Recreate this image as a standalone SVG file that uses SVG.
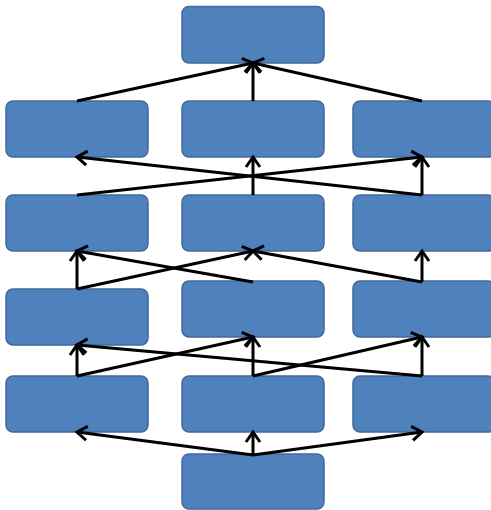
<svg xmlns="http://www.w3.org/2000/svg" width="491" height="510" viewBox="0 0 491 510">
<style>
.n{fill:#4F81BD;stroke:#41699A;stroke-width:1.5}
.c{stroke:#000;stroke-width:3;fill:none;marker-end:url(#a)}
</style>
<defs>
<marker id="a" markerUnits="userSpaceOnUse" markerWidth="24" markerHeight="24" refX="12" refY="12" orient="auto" viewBox="0 0 24 24">
<path d="M2,5 L12,12 L2,19" fill="none" stroke="#000" stroke-width="3"/>
</marker>
</defs>
<g id="n_top"><rect class="n" x="182" y="6.5" width="142" height="56.5" rx="7"/></g>
<g id="n_r2_l"><rect class="n" x="6" y="101" width="142" height="56" rx="7"/></g>
<g id="n_r2_m"><rect class="n" x="182" y="101" width="142" height="56" rx="7"/></g>
<g id="n_r2_r"><rect class="n" x="353" y="101" width="142" height="56" rx="7"/></g>
<g id="n_r3_l"><rect class="n" x="6" y="195" width="142" height="56" rx="7"/></g>
<g id="n_r3_m"><rect class="n" x="182" y="195" width="142" height="56" rx="7"/></g>
<g id="n_r3_r"><rect class="n" x="353" y="195" width="142" height="56" rx="7"/></g>
<g id="n_r4_l"><rect class="n" x="6" y="289" width="142" height="56" rx="7"/></g>
<g id="n_r4_m"><rect class="n" x="182" y="281" width="142" height="56" rx="7"/></g>
<g id="n_r4_r"><rect class="n" x="353" y="281" width="142" height="56" rx="7"/></g>
<g id="n_r5_l"><rect class="n" x="6" y="376" width="142" height="56" rx="7"/></g>
<g id="n_r5_m"><rect class="n" x="182" y="376" width="142" height="56" rx="7"/></g>
<g id="n_r5_r"><rect class="n" x="353" y="376" width="142" height="56" rx="7"/></g>
<g id="n_bottom"><rect class="n" x="182" y="454" width="142" height="55" rx="7"/></g>
<g id="connectors">
<line class="c" x1="77" y1="101" x2="253" y2="63"/>
<line class="c" x1="253" y1="101" x2="253" y2="63"/>
<line class="c" x1="422" y1="101" x2="253" y2="63"/>
<line class="c" x1="77" y1="195" x2="422" y2="157"/>
<line class="c" x1="422" y1="195" x2="77" y2="157"/>
<line class="c" x1="253" y1="195" x2="253" y2="157"/>
<line class="c" x1="422" y1="195" x2="422" y2="157"/>
<line class="c" x1="77" y1="289" x2="77" y2="251"/>
<line class="c" x1="77" y1="289" x2="253" y2="251"/>
<line class="c" x1="253" y1="282" x2="77" y2="251"/>
<line class="c" x1="422" y1="282" x2="253" y2="251"/>
<line class="c" x1="422" y1="282" x2="422" y2="251"/>
<line class="c" x1="77" y1="376" x2="77" y2="345"/>
<line class="c" x1="77" y1="376" x2="253" y2="337"/>
<line class="c" x1="253" y1="376" x2="253" y2="337"/>
<line class="c" x1="253" y1="376" x2="422" y2="337"/>
<line class="c" x1="422" y1="376" x2="422" y2="337"/>
<line class="c" x1="422" y1="376" x2="77" y2="345"/>
<line class="c" x1="253" y1="455" x2="77" y2="432"/>
<line class="c" x1="253" y1="455" x2="253" y2="432"/>
<line class="c" x1="253" y1="455" x2="422" y2="432"/>
</g>
</svg>
